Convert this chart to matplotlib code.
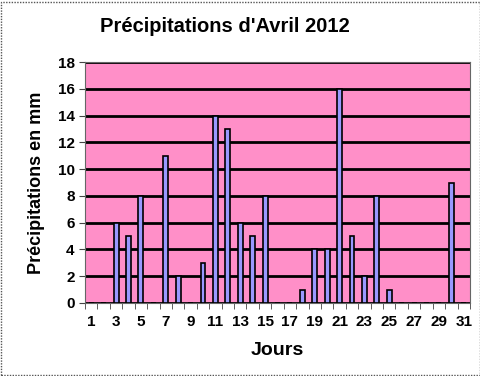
import numpy as np
import matplotlib.pyplot as plt
from matplotlib.patches import Rectangle

plt.rcParams['font.family'] = ['Liberation Sans', 'DejaVu Sans']
plt.rcParams['hatch.color'] = '#f070b0'
plt.rcParams['hatch.linewidth'] = 0.6

jours = np.arange(1, 32)
pluie = [0, 0, 6, 5, 8, 0, 11, 2, 0, 3, 14, 13, 6, 5, 8, 0,
         0, 1, 4, 4, 16, 5, 2, 8, 1, 0, 0, 0, 0, 9, 0]
yticks = np.arange(0, 19, 2)
xtick_labels = [str(j) for j in range(1, 32, 2)]

fig = plt.figure(figsize=(4.81, 3.76), dpi=100)
ax = fig.add_axes([85 / 481, 1 - 303 / 376, 385 / 481, 241 / 376])

ax.set_facecolor('#ff8fc8')
# dotted background like the original
ax.add_patch(Rectangle((0, 0), 1, 1, transform=ax.transAxes, facecolor='none',
                       edgecolor='none', hatch='.', zorder=0))
ax.bar(jours, pluie, width=0.4, color='#9999ff', edgecolor='black', linewidth=1.2, zorder=3)

ax.set_xlim(0.5, 31.5)
ax.set_ylim(0, 18)
ax.set_yticks(yticks)
ax.set_xticks(range(1, 32, 2))
ax.set_xticklabels(xtick_labels)
ax.set_xticks(np.arange(0.5, 32, 1), minor=True)
ax.tick_params(axis='x', which='major', length=0, pad=9)
ax.tick_params(axis='x', which='minor', length=4, direction='out', color='#444444')
ax.tick_params(axis='y', length=4, direction='out', color='#444444')
for lab in ax.get_xticklabels() + ax.get_yticklabels():
    lab.set_fontsize(11)
    lab.set_fontweight('bold')

ax.grid(axis='y', color='black', linewidth=2, zorder=1)
ax.set_axisbelow(True)
for s in ax.spines.values():
    s.set_color('#666666')
    s.set_linewidth(0.8)

ax.set_ylabel('Précipitations en mm', fontsize=13, fontweight='bold', labelpad=9)
ax.set_xlabel('Jours', fontsize=14, fontweight='bold', labelpad=9)
fig.text(225 / 481, 1 - 26 / 376, "Précipitations d'Avril 2012", ha='center', va='center',
         fontsize=14.5, fontweight='bold')

fig.patches.append(Rectangle((0.002, 0.003), 0.995, 0.993, transform=fig.transFigure,
                             fill=False, edgecolor='#555555', linestyle=(0, (1, 1)), linewidth=1))

fig.savefig('out.png', dpi=100)
